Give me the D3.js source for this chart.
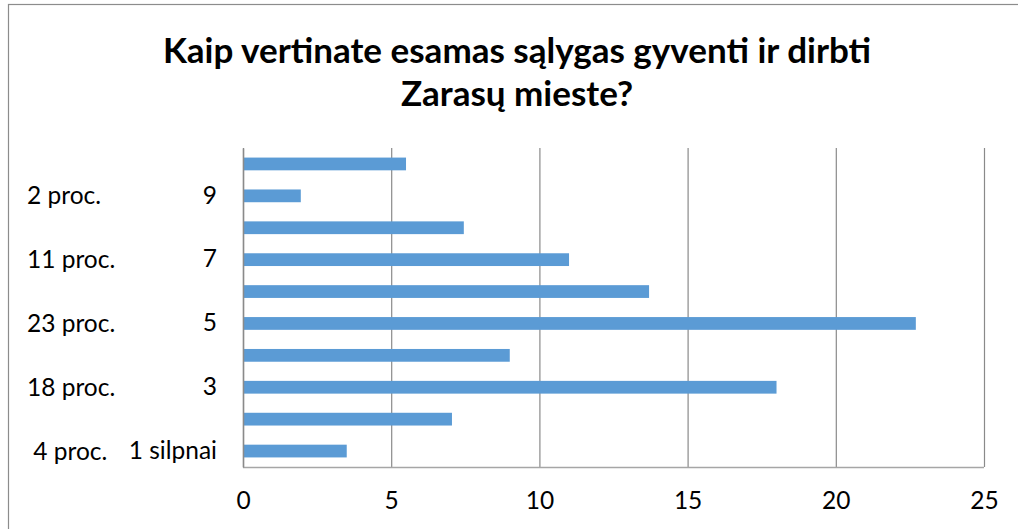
<!DOCTYPE html>
<html><head><meta charset="utf-8">
<script src="https://cdn.jsdelivr.net/npm/d3@7"></script>
<style>
html,body{margin:0;padding:0;background:#fff;}
svg{display:block;}
text{font-family:Lato,"Noto Sans",sans-serif;fill:#000;}
</style></head>
<body>
<svg id="chart" width="1018" height="529"></svg>
<script>
const titleLines = ["Kaip vertinate esamas sąlygas gyventi ir dirbti", "Zarasų mieste?"];
const categories = ["1","2","3","4","5","6","7","8","9","10"];
const categoryLabels = ["1 silpnai","","3","","5","","7","","9",""];
const groupLabels = [" 4 proc.","18 proc.","23 proc.","11 proc.","2 proc."];
const values = [3.5, 7.05, 18, 9, 22.7, 13.7, 11, 7.45, 1.95, 5.5];
const xTicks = [0,5,10,15,20,25];

const svg = d3.select("#chart");
const m = {left:243, right:984, top:148, bottom:467};
const fs = 24.5;

// outer frame
svg.append("rect").attr("x",8.5).attr("y",4.5).attr("width",1030).attr("height",600)
  .attr("fill","none").attr("stroke","#8c8c8c").attr("stroke-width",1.2);

// title
svg.append("text").attr("text-anchor","middle").attr("font-weight","bold").attr("font-size",35)
  .selectAll("tspan").data(titleLines).join("tspan")
  .attr("x",517).attr("y",(d,i)=>63+i*43).text(d=>d);

const x = d3.scaleLinear().domain([0,25]).range([m.left,m.right]);
const y = d3.scaleBand().domain(categories).range([m.bottom,m.top]).paddingInner(0.6).paddingOuter(0.3);

// gridlines
svg.append("g").attr("transform",`translate(0,${m.bottom})`)
  .call(d3.axisBottom(x).tickValues(xTicks).tickSize(-(m.bottom-m.top)).tickFormat(""))
  .call(g=>g.select(".domain").remove())
  .call(g=>g.selectAll(".tick line").attr("stroke","#8a8a8a").attr("stroke-width",1.2));

// bottom line
svg.append("line").attr("x1",m.left).attr("x2",m.right).attr("y1",m.bottom+0.5).attr("y2",m.bottom+0.5)
  .attr("stroke","#a6a6a6").attr("stroke-width",1.5);

// x tick labels
svg.append("g").attr("transform",`translate(0,${m.bottom})`)
  .call(d3.axisBottom(x).tickValues(xTicks).tickSize(0).tickPadding(25))
  .call(g=>g.select(".domain").remove())
  .call(g=>g.selectAll("text").attr("font-size",fs).attr("font-family","Lato,'Noto Sans',sans-serif").attr("fill","#000"));

// bars
svg.append("g").selectAll("rect").data(values).join("rect")
  .attr("x",x(0)).attr("y",(d,i)=>y(categories[i]))
  .attr("width",d=>x(d)-x(0)).attr("height",y.bandwidth())
  .attr("fill","#5b9bd5");

// y axis (inner labels)
svg.append("g").attr("transform",`translate(${m.left},0)`)
  .call(d3.axisLeft(y).tickSize(0).tickPadding(26).tickFormat((d,i)=>categoryLabels[i]))
  .call(g=>g.select(".domain").attr("stroke","#8a8a8a").attr("stroke-width",1.5))
  .call(g=>g.selectAll("text").attr("font-size",fs).attr("font-family","Lato,'Noto Sans',sans-serif").attr("fill","#000"));

// outer group labels
svg.append("g").selectAll("text").data(groupLabels).join("text")
  .attr("x",27).attr("y",(d,i)=>y(categories[i*2])+y.bandwidth()/2)
  .attr("dy","0.35em").attr("font-size",fs).style("white-space","pre")
  .text(d=>d);
</script>
</body></html>
